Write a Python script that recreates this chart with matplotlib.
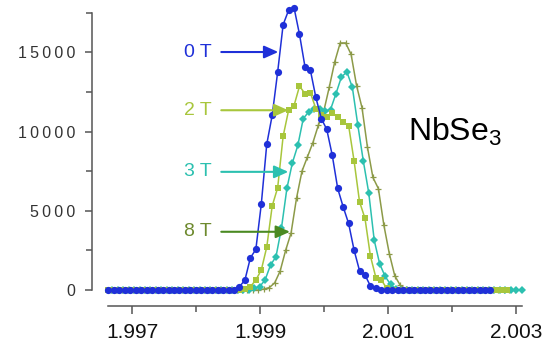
import numpy as np
import matplotlib
matplotlib.use("Agg")
import matplotlib.pyplot as plt
from matplotlib.ticker import FixedLocator, FuncFormatter

plt.rcParams['font.family'] = ['Liberation Sans', 'DejaVu Sans']
plt.rcParams['mathtext.default'] = 'regular'

# grid step shared by all four scans
dx = 0.0000854

# 0 T (blue circles)
x0_0T = 1.996626
y_0T = [0] * 24 + [210, 630, 2030, 2560, 5420, 9200, 11030, 13760, 16740, 17650,
                   17815, 16130, 14100, 13860, 12150, 10820, 10130, 8510, 6410, 5250,
                   4200, 2520, 1220, 945, 250, 100] + [0] * 21

# 2 T (yellow-green squares)
x0_2T = 1.996626
y_2T = [0] * 25 + [80, 210, 630, 1260, 2710, 5310, 6450, 9700, 11340, 11640,
                   12860, 12400, 12440, 11450, 11070, 10920, 11170, 10920, 10590, 10380,
                   8150, 5570, 4520, 2140, 780, 630, 100] + [0] * 22

# 3 T (teal diamonds)
x0_3T = 1.996685
y_3T = [0] * 26 + [100, 210, 630, 1575, 2100, 3900, 6410, 8020, 9120, 10820,
                   11240, 11400, 11450, 11280, 11390, 12400, 13450, 13760, 12780, 10400,
                   8150, 6130, 3150, 1650, 860, 350, 80] + [0] * 23

# 8 T (olive crosses)
x0_8T = 1.996665
y_8T = [0] * 28 + [60, 150, 450, 1200, 2500, 3600, 5800, 7500, 8400, 9300,
                   10400, 11300, 12800, 14400, 15590, 15590, 14870, 12900, 11500, 9000,
                   7100, 6400, 4100, 2300, 900, 300, 60] + [0] * 20

x_ticks = [1.997, 1.999, 2.001, 2.003]
x_minor = [1.998, 2.000, 2.002]
y_ticks = [0, 5000, 10000, 15000]
y_minor = [2500, 7500, 12500, 17500]

c_blue = '#1f30d8'
c_2T = '#a8c63c'
c_3T = '#2cc0b0'
c_8T = '#8c9a48'

series = [
    (x0_8T, y_8T, c_8T, '+', 5, 1),
    (x0_3T, y_3T, c_3T, 'D', 4.3, 2),
    (x0_2T, y_2T, c_2T, 's', 4.4, 3),
    (x0_0T, y_0T, c_blue, 'o', 5.2, 4),
]

fig = plt.figure(figsize=(5.49, 3.47), dpi=100)
ax = fig.add_axes([100 / 549, 49 / 347, 425 / 549, 293 / 347])

xs_all = []
for x0, ys, col, mk, ms, z in series:
    xs = x0 + dx * np.arange(len(ys))
    xs_all.append(xs)
    ax.plot(xs, ys, color=col, lw=1.1, marker=mk, ms=ms, mew=0.9 if mk == '+' else 0,
            mec=col, mfc=col, zorder=z, clip_on=False)

xs_all = np.concatenate(xs_all)
ax.set_xlim(1.996493, 2.003144)
ax.set_ylim(-505, 17985)

for s in ['top', 'right']:
    ax.spines[s].set_visible(False)
for s in ['left', 'bottom']:
    ax.spines[s].set_position(('outward', 6))
    ax.spines[s].set_color('#555555')
    ax.spines[s].set_linewidth(1.1)
ax.spines['left'].set_bounds(0, 17500)
ax.spines['bottom'].set_bounds(xs_all.min(), xs_all.max())

ax.xaxis.set_major_locator(FixedLocator(x_ticks))
ax.xaxis.set_minor_locator(FixedLocator(x_minor))
ax.yaxis.set_major_locator(FixedLocator(y_ticks))
ax.yaxis.set_minor_locator(FixedLocator(y_minor))
ax.xaxis.set_major_formatter(FuncFormatter(lambda v, p: f"{v:.3f}"))
ax.yaxis.set_major_formatter(FuncFormatter(lambda v, p: '\u2009'.join(f"{int(v)}")))

ax.tick_params(axis='x', which='major', length=6, width=1.1, color='#555555',
               labelsize=15, pad=6, labelcolor='#111111')
ax.tick_params(axis='x', which='minor', length=4, width=1.1, color='#555555')
ax.tick_params(axis='y', which='major', length=5, width=1.1, color='#555555',
               labelsize=11.5, pad=7, labelcolor='#333333')
ax.tick_params(axis='y', which='minor', length=4.5, width=1.1, color='#555555')

# field labels with arrows
labels = [
    ('0 T', 15018, 1.999283, c_blue, c_blue),
    ('2 T', 11344, 1.999440, c_2T, c_2T),
    ('3 T', 7456, 1.999440, c_3T, c_3T),
    ('8 T', 3674, 1.999466, '#6e8a2e', '#4a8a22'),
]
for txt, yv, xtip, tcol, acol in labels:
    ax.text(1.998031, yv, txt, color=tcol, fontsize=14, ha='center', va='center',
            zorder=6)
    ax.annotate('', xy=(xtip, yv), xytext=(1.998391, yv),
                arrowprops=dict(arrowstyle='-|>,head_length=0.85,head_width=0.38',
                                color=acol, lw=1.5, shrinkA=0, shrinkB=0),
                zorder=6)

ax.text(2.001310, 10000, 'NbSe$_3$', fontsize=23, color='black',
        ha='left', va='center')

fig.savefig('out.png', dpi=100)
